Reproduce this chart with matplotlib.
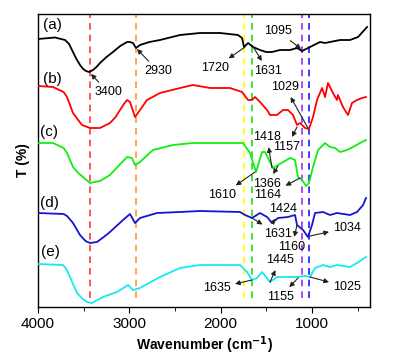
import matplotlib
matplotlib.use("Agg")
import matplotlib.pyplot as plt
from matplotlib.ticker import MultipleLocator

plt.rcParams['font.family'] = ['Liberation Sans', 'DejaVu Sans']

# FTIR spectra, wavenumber (cm-1) vs stacked transmittance (arbitrary units)
wa = [4000, 3814, 3704, 3660, 3628, 3585, 3540, 3505, 3474, 3441, 3398, 3360, 3321,
      3250, 3179, 3100, 3025, 2993, 2960, 2927, 2883, 2780, 2664, 2445, 2226, 2007,
      1810, 1766, 1744, 1700, 1646, 1569, 1503, 1438, 1350, 1241, 1164, 1109, 1022,
      912, 857, 803, 693, 584, 496, 397]
ta = [271, 272.5, 270, 266, 260, 252, 245, 241, 239, 238, 240, 243, 247,
      253, 258, 264, 268, 268, 267, 262, 265, 268, 270, 275, 277, 277,
      275, 272, 263, 267, 263, 260, 258, 258, 260, 260, 262, 259, 263,
      268, 267, 268, 270, 270, 273, 283]

wb = [4000, 3836, 3720, 3682, 3617, 3560, 3518, 3431, 3321, 3212, 3150, 3102, 3060,
      3025, 2993, 2938, 2883, 2807, 2664, 2445, 2303, 2117, 1898, 1766, 1700, 1657,
      1624, 1569, 1492, 1460, 1383, 1317, 1263, 1208, 1164, 1131, 1076, 1033, 989,
      945, 890, 857, 825, 770, 727, 716, 661, 606, 562, 507, 452, 409]
tb = [224, 223, 218, 213, 197, 190, 185, 182, 182, 187, 193, 200, 206,
      210, 208, 193, 200, 210, 217, 222, 225, 222, 222, 218, 210, 210,
      213, 208, 200, 195, 195, 200, 200, 195, 185, 187, 182, 181, 193,
      210, 222, 213, 227, 217, 210, 215, 203, 195, 207, 210, 212, 213]

wc = [4000, 3836, 3720, 3682, 3617, 3560, 3507, 3431, 3321, 3212, 3120, 3025, 2971,
      2938, 2883, 2741, 2522, 2303, 1898, 1755, 1679, 1613, 1547, 1514, 1427, 1372,
      1241, 1186, 1153, 1109, 1065, 1033, 989, 934, 857, 803, 748, 693, 617, 551,
      474, 409]
tc = [167, 167, 162, 157, 143, 137, 133, 127, 129, 135, 144, 153, 152,
      145, 148, 160, 165, 167, 167, 167, 157, 138, 158, 158, 142, 145,
      152, 150, 133, 130, 124, 127, 143, 160, 167, 163, 162, 158, 160, 163,
      167, 170]

wd = [4000, 3720, 3682, 3617, 3540, 3480, 3431, 3354, 3280, 3212, 3069, 2993, 2938,
      2883, 2697, 2445, 2226, 1788, 1733, 1657, 1569, 1492, 1438, 1372, 1263, 1186,
      1164, 1098, 1044, 1000, 967, 879, 803, 727, 584, 507, 441, 409]
td = [97, 96, 94, 87, 75, 69, 67, 68, 73, 78, 90, 96, 87,
      92, 97, 98, 99, 98, 95, 92, 97, 93, 87, 92, 93, 95,
      85, 80, 73, 85, 97, 98, 95, 97, 95, 98, 105, 112]

we = [4000, 3726, 3690, 3650, 3573, 3510, 3463, 3409, 3350, 3288, 3135, 3014, 2960,
      2883, 2664, 2445, 2226, 1788, 1711, 1657, 1602, 1547, 1460, 1383, 1274, 1164,
      1076, 1022, 967, 879, 803, 727, 584, 507, 409]
te = [46, 45, 41, 33, 17, 11, 8, 7, 10, 13, 18, 25, 20,
      22, 33, 42, 45, 45, 38, 30, 32, 38, 28, 33, 33, 33,
      34, 33, 42, 45, 43, 45, 43, 47, 53]

curve_labels = ['(a)', '(b)', '(c)', '(d)', '(e)']
band_lines = [3430, 2930, 1740, 1655, 1105, 1033]
band_colors = ['#ff3b3b', '#ff9a2e', '#ffff00', '#22dd22', '#9b30ff', '#1a1aff']

fig = plt.figure(figsize=(3.94, 3.55), dpi=100)
ax = fig.add_axes([38 / 394, 48 / 355, 332 / 394, 293 / 355])

for w, c in zip(band_lines, band_colors):
    ax.vlines(w, 12, 295, colors=c, linestyles=(0, (4, 3)), lw=1.2, zorder=1)

ax.plot(wa, ta, color='black', lw=1.3, zorder=3)
ax.plot(wb, tb, color='#ff0000', lw=1.3, zorder=3)
ax.plot(wc, tc, color='#11ee11', lw=1.3, zorder=3)
ax.plot(wd, td, color='#1515d0', lw=1.3, zorder=3)
ax.plot(we, te, color='#15eaf0', lw=1.3, zorder=3)

# curve tags
for lab, (x, y) in zip(curve_labels, [(3847, 285), (3847, 231), (3880, 178),
                                      (3880, 107), (3869, 58)]):
    ax.text(x, y, lab, fontsize=11, ha='center', va='center')

# peak annotations: text, text position, curve point, arrow head at curve?
notes = [
    ('3400', (3233, 218), (3420, 236), True),
    ('2930', (2686, 239), (2916, 261), True),
    ('1720', (2062, 242), (1733, 263), False),
    ('1631', (1482, 239), (1657, 265), False),
    ('1095', (1372, 279), (1120, 261), True),
    ('1029', (1296, 223), (1044, 182), False),
    ('1157', (1274, 163), (1164, 183), False),
    ('1418', (1493, 173), (1438, 142), False),
    ('1610', (1985, 115), (1624, 138), False),
    ('1366', (1493, 126), (1372, 144), False),
    ('1164', (1482, 115), (1131, 132), False),
    ('1424', (1317, 101), (1427, 88), False),
    ('1631', (1372, 76), (1657, 92), False),
    ('1160', (1219, 63), (1164, 85), False),
    ('1034', (616, 82), (1022, 74), False),
    ('1445', (1350, 50), (1460, 28), False),
    ('1635', (2040, 22), (1657, 30), False),
    ('1155', (1350, 13), (1153, 32), False),
    ('1025', (616, 23), (1022, 33), False),
]
for txt, tpos, ppos, head_curve in notes:
    ax.annotate(txt, xy=ppos, xytext=tpos, fontsize=9, ha='center', va='center',
                arrowprops=dict(arrowstyle='-|>' if head_curve else '<|-',
                                color='#222222', lw=0.8, mutation_scale=7,
                                shrinkA=1, shrinkB=0),
                zorder=5)

ax.set_xlim(4000, 365)
ax.set_ylim(3, 296)
ax.xaxis.set_major_locator(MultipleLocator(1000))
ax.xaxis.set_minor_locator(MultipleLocator(500))
ax.set_yticks([])
ax.tick_params(axis='x', which='major', direction='out', length=4, labelsize=11)
ax.tick_params(axis='x', which='minor', direction='out', length=3)
ax.set_xlabel('Wavenumber (cm$^{\\mathbf{-1}}$)', fontsize=10, fontweight='bold', labelpad=2)
ax.set_ylabel('T (%)', fontsize=10, fontweight='bold', labelpad=6)
for s in ax.spines.values():
    s.set_linewidth(1.0)

fig.savefig('out.png', dpi=100)
